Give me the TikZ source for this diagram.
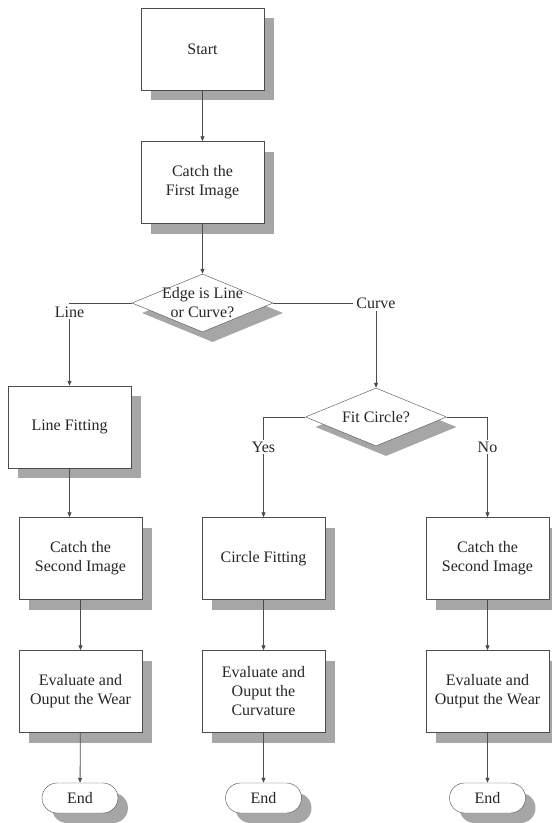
\documentclass[tikz,border=0pt]{standalone}
\usepackage{fontspec}
\setmainfont{Liberation Serif}
\usetikzlibrary{shapes.geometric, shapes.misc, shadows, arrows.meta}

\tikzset{
  boxshadow/.style={drop shadow={shadow xshift=10pt, shadow yshift=-10pt, fill=black!35, opacity=1}},
  procbox/.style={rectangle, draw=black!70, fill=white, minimum width=123pt, minimum height=82pt, align=center, inner sep=2pt, boxshadow},
  decision/.style={diamond, draw=black!70, fill=white, minimum width=141pt, minimum height=58pt, inner sep=0pt, boxshadow},
  terminal/.style={rounded rectangle, draw=black!70, fill=white, minimum width=80pt, minimum height=30pt, inner sep=2pt, boxshadow},
  flow/.style={draw=black!70, line width=0.8pt, -{Triangle[length=5pt, width=4pt]}},
  lbl/.style={fill=white, inner sep=2pt}
}

\begin{document}
\begin{tikzpicture}[x=1pt, y=-1pt, font=\fontsize{16}{19}\selectfont, text=black!85]
    \useasboundingbox (0,0) rectangle (552,823);

    % Main column
    \node[procbox] (start) at (202.5,49) {Start};
    \node[procbox] (first) at (202.5,182.5) {Catch the\\First Image};
    \node[decision, label={[align=center]center:Edge is Line\\or Curve?}] (edge) at (202.5,303) {};

    % Line branch
    \node[procbox] (linefit) at (69.5,427) {Line Fitting};
    \node[procbox] (second1) at (80.5,558.5) {Catch the\\Second Image};
    \node[procbox] (eval1) at (80.5,691.5) {Evaluate and\\Ouput the Wear};
    \node[terminal] (end1) at (80,798) {End};

    % Curve branch
    \node[decision, label={center:Fit Circle?}] (fit) at (376,417) {};
    \node[procbox] (circfit) at (263.5,558.5) {Circle Fitting};
    \node[procbox] (eval2) at (263.5,691.5) {Evaluate and\\Ouput the\\Curvature};
    \node[terminal] (end2) at (263.5,798) {End};
    \node[procbox] (second2) at (487.5,558.5) {Catch the\\Second Image};
    \node[procbox] (eval3) at (487.5,691.5) {Evaluate and\\Output the Wear};
    \node[terminal] (end3) at (487.5,798) {End};

    % Connectors
    \draw[flow] (start) -- (first);
    \draw[flow] (first) -- (edge);
    \draw[flow] (edge.west) -| (linefit.north) node[lbl, pos=0.5, below=1pt] {Line};
    \draw[flow] (edge.east) -| (fit.north) node[lbl, pos=0.5, inner sep=3pt] {Curve};
    \draw[flow] (linefit.south) -- (linefit.south |- second1.north);
    \draw[flow] (second1) -- (eval1);
    \draw[flow] (eval1) -- (end1);
    \draw[flow] (fit.west) -| (circfit.north) node[lbl, pos=0.65] {Yes};
    \draw[flow] (fit.east) -| (second2.north) node[lbl, pos=0.65] {No};
    \draw[flow] (circfit) -- (eval2);
    \draw[flow] (eval2) -- (end2);
    \draw[flow] (second2) -- (eval3);
    \draw[flow] (eval3) -- (end3);
\end{tikzpicture}
\end{document}
